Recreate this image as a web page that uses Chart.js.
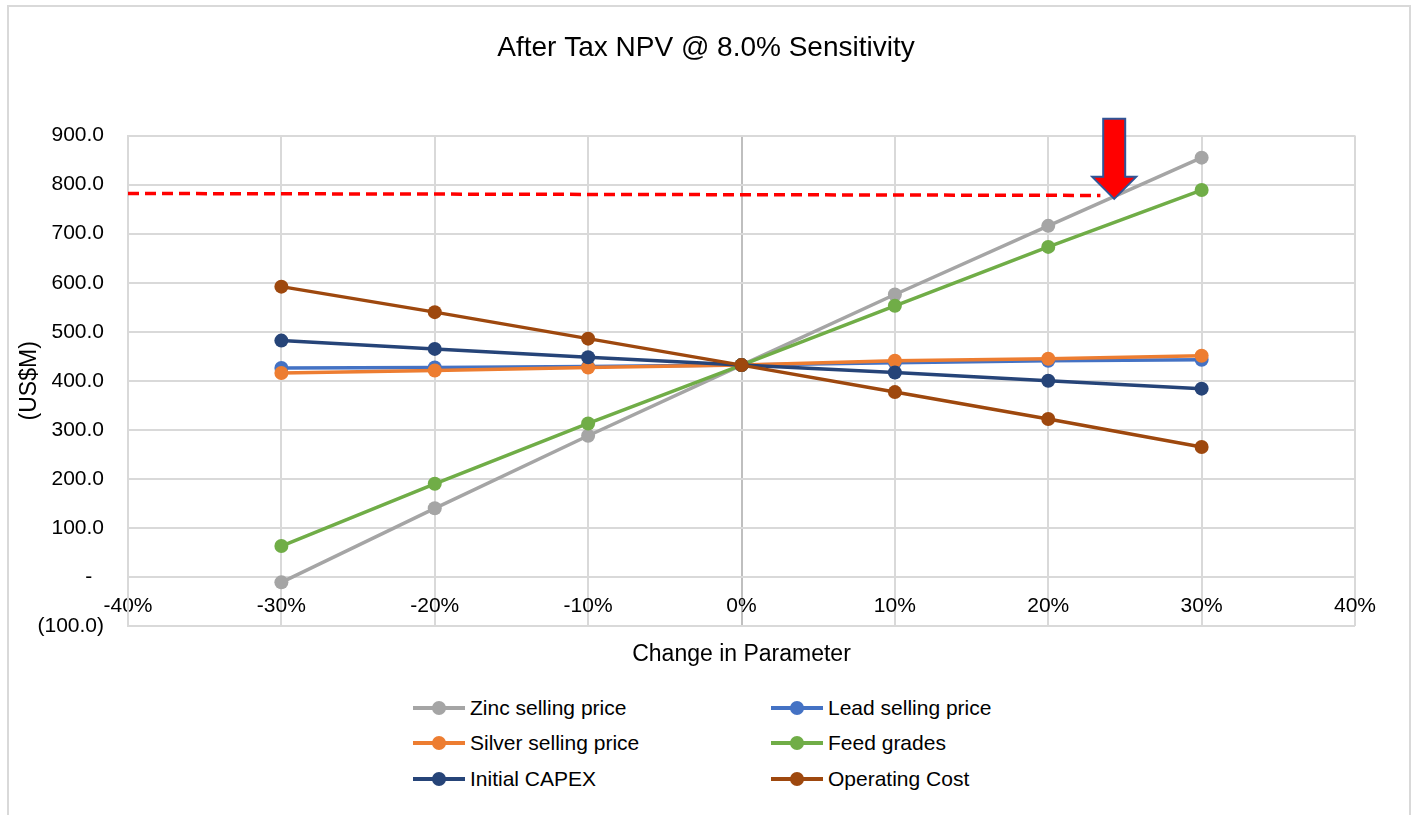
<!DOCTYPE html>
<html>
<head>
<meta charset="utf-8">
<title>After Tax NPV Sensitivity</title>
<script src="https://cdn.jsdelivr.net/npm/chart.js@4/dist/chart.umd.min.js"></script>
<style>
  body { margin: 0; background: #fff; font-family: "Liberation Sans", Arial, sans-serif; }
  #frame { position: absolute; left: 7px; top: 5px; width: 1400px; height: 900px;
           border: 2px solid #d9d9d9; border-bottom: none; }
  #npvChart { position: absolute; left: 0; top: 0; }
  #legend { position: absolute; left: 413px; top: 690px; display: grid;
            grid-template-columns: 358px 358px; grid-auto-rows: 35.5px; }
  .item { display: flex; align-items: center; font-size: 21px; color: #000; white-space: nowrap; }
  .mark { position: relative; width: 52px; height: 14px; margin-right: 5px; }
  .mark .ln { position: absolute; left: 0; right: 0; top: 5px; height: 4px; }
  .mark .dot { position: absolute; left: 19px; top: 0; width: 14px; height: 14px; border-radius: 50%; }
</style>
</head>
<body>
<div id="frame"></div>
<canvas id="npvChart" width="1412" height="680"></canvas>
<div id="legend"></div>
<script>
"use strict";

// % change in parameter
const changes = [-30, -20, -10, 0, 10, 20, 30];

// after tax NPV (US$M) per parameter
const zincPrice = [-11, 140, 288, 432, 576, 716, 855];
const leadPrice = [426, 427, 429, 432, 437, 441, 443];
const silverPrice = [416, 421, 427, 432, 441, 445, 451];
const feedGrades = [63, 190, 313, 432, 553, 673, 789];
const initialCapex = [482, 465, 448, 432, 417, 400, 384];
const operatingCost = [592, 540, 486, 432, 377, 322, 265];

const seriesNames = ["Zinc selling price", "Lead selling price", "Silver selling price",
  "Feed grades", "Initial CAPEX", "Operating Cost"];

// red dashed target line and the arrow tip (in chart units)
const targetX = [-40, 23.4];
const targetY = [782, 778];
const arrowTip = { x: 24.3, y: 771 };

const yTicks = [-100, 0, 100, 200, 300, 400, 500, 600, 700, 800, 900];
const xTicks = [-40, -30, -20, -10, 0, 10, 20, 30, 40];

const colors = ["#a5a5a5", "#4472c4", "#ed7d31", "#70ad47", "#264478", "#9e480e"];
const allSeries = [zincPrice, leadPrice, silverPrice, feedGrades, initialCapex, operatingCost];

const FONT = "'Liberation Sans', Arial, sans-serif";

const datasets = allSeries.map((vals, i) => ({
  label: seriesNames[i],
  data: changes.map((c, j) => ({ x: c, y: vals[j] })),
  borderColor: colors[i],
  backgroundColor: colors[i],
  borderWidth: 3.5,
  pointRadius: 7,
  pointBorderWidth: 0,
  pointHoverRadius: 7,
  tension: 0,
  order: allSeries.length - i,
}));

datasets.push({
  label: "target",
  data: targetX.map((x, j) => ({ x: x, y: targetY[j] })),
  borderColor: "#ff0000",
  borderWidth: 3.5,
  borderDash: [11, 6],
  pointRadius: 0,
  order: 10,
});

// down arrow drawn at the tip location
const arrowPlugin = {
  id: "arrow",
  afterDatasetsDraw(chart) {
    const { ctx } = chart;
    const tx = chart.scales.x.getPixelForValue(arrowTip.x);
    const ty = chart.scales.y.getPixelForValue(arrowTip.y);
    ctx.save();
    ctx.beginPath();
    ctx.moveTo(tx, ty);
    ctx.lineTo(tx - 22, ty - 22);
    ctx.lineTo(tx - 11, ty - 22);
    ctx.lineTo(tx - 11, ty - 80);
    ctx.lineTo(tx + 11, ty - 80);
    ctx.lineTo(tx + 11, ty - 22);
    ctx.lineTo(tx + 22, ty - 22);
    ctx.closePath();
    ctx.fillStyle = "#ff0000";
    ctx.fill();
    ctx.lineWidth = 2;
    ctx.strokeStyle = "#2f5597";
    ctx.stroke();
    ctx.restore();
  },
};

function yLabel(v) {
  if (v === 0) return "-  ";
  if (v < 0) return "(" + Math.abs(v).toFixed(1) + ")";
  return v.toFixed(1);
}

new Chart(document.getElementById("npvChart"), {
  type: "line",
  data: { datasets: datasets },
  plugins: [arrowPlugin],
  options: {
    responsive: false,
    animation: false,
    layout: { padding: { left: 0, right: 0, top: 0, bottom: 54 } },
    plugins: {
      legend: { display: false },
      tooltip: { enabled: false },
      title: {
        display: true,
        text: "After Tax NPV @ 8.0% Sensitivity",
        color: "#000",
        font: { family: FONT, size: 28, weight: "normal" },
        padding: { top: 31, bottom: 71 },
      },
    },
    scales: {
      x: {
        type: "linear",
        position: { y: 0 },
        min: -40,
        max: 40,
        afterBuildTicks: (scale) => { scale.ticks = xTicks.map((v) => ({ value: v })); },
        ticks: {
          color: "#000",
          padding: 17,
          font: { family: FONT, size: 21 },
          callback: (v) => v + "%",
        },
        grid: {
          drawTicks: false,
          lineWidth: 2,
          color: (ctx) => (ctx.tick && ctx.tick.value === 0 ? "#bfbfbf" : "#d9d9d9"),
        },
        border: { color: "#d9d9d9", width: 2 },
        title: {
          display: true,
          text: "Change in Parameter",
          color: "#000",
          font: { family: FONT, size: 23 },
          padding: { top: 5, bottom: 0 },
        },
      },
      y: {
        position: "left",
        min: -100,
        max: 900,
        afterBuildTicks: (scale) => { scale.ticks = yTicks.map((v) => ({ value: v })); },
        afterFit: (scale) => { scale.width = 128; },
        ticks: {
          color: "#000",
          padding: 24,
          font: { family: FONT, size: 21 },
          callback: (v) => yLabel(v),
        },
        grid: { drawTicks: false, lineWidth: 2, color: "#d9d9d9" },
        border: { color: "#d9d9d9", width: 2 },
        title: {
          display: true,
          text: "(US$M)",
          color: "#000",
          font: { family: FONT, size: 23 },
          padding: { top: 16, bottom: 0 },
        },
      },
      // empty right-hand spacer so the title stays centred on the page
      spacer: {
        type: "linear",
        axis: "y",
        position: "right",
        display: true,
        afterFit: (scale) => { scale.width = 57; },
        ticks: { display: false },
        grid: { display: false, drawOnChartArea: false },
        border: { display: false },
      },
    },
  },
});

// two column legend under the chart
const legendBox = document.getElementById("legend");
seriesNames.forEach((name, i) => {
  const item = document.createElement("div");
  item.className = "item";
  item.innerHTML =
    '<span class="mark"><span class="ln" style="background:' + colors[i] + '"></span>' +
    '<span class="dot" style="background:' + colors[i] + '"></span></span>' +
    "<span>" + name + "</span>";
  legendBox.appendChild(item);
});
</script>
</body>
</html>
